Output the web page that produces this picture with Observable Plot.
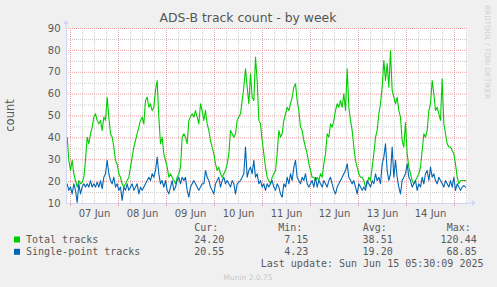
<!DOCTYPE html>
<html><head><meta charset="utf-8">
<script src="https://cdn.jsdelivr.net/npm/d3@7"></script>
<script src="https://cdn.jsdelivr.net/npm/@observablehq/plot@0.6"></script>
<style>
html,body{margin:0;padding:0;background:#f0f0f0;}
#chart svg{display:block;}
</style></head><body><div id="chart"></div>
<script>
// ---- texts ----
const title = "ADS-B track count - by week";
const yLabel = "count";
const seriesNames = ["Total tracks", "Single-point tracks"];
const seriesColors = ["#00cc00", "#0066b3"];
const statHeaders = ["Cur:", "Min:", "Avg:", "Max:"];
const totalStats = ["24.20", "7.15", "38.51", "120.44"];
const singleStats = ["20.55", "4.23", "19.20", "68.85"];
const lastUpdate = "Last update: Sun Jun 15 05:30:09 2025";
const footer = "Munin 2.0.75";
const watermark = "RRDTOOL / TOBI OETIKER";

// ---- axes ----
const yTicks = [10, 20, 30, 40, 50, 60, 70, 80, 90];
const dayLabels = ["07 Jun", "08 Jun", "09 Jun", "10 Jun", "11 Jun", "12 Jun", "13 Jun", "14 Jun"];
const domainStart = new Date(Date.UTC(2025, 5, 6, 22, 0));
const domainEnd = new Date(Date.UTC(2025, 5, 15, 6, 30));
const firstSample = Date.UTC(2025, 5, 6, 22, 20);
const stepMinutes = 50;

// ---- series (one value every 50 min) ----
const total = [
40.3,29.7,25.1,29.7,23.6,20.5,17.5,20.5,19.0,19.8,22.0,29.7,40.3,37.3,41.9,44.9,49.5,51.0,48.0,46.4,
48.0,43.4,49.5,48.0,58.6,49.5,41.9,40.3,35.8,29.7,28.1,23.6,22.0,19.0,17.5,19.0,20.5,22.0,26.6,31.2,
35.8,38.8,41.9,44.9,48.0,49.5,46.4,57.1,58.6,54.0,55.6,52.5,54.0,61.7,66.2,49.5,37.3,40.3,32.7,29.7,
26.6,22.0,23.6,22.0,20.5,19.0,22.0,23.6,26.6,40.3,41.9,40.3,37.3,48.0,49.5,51.0,49.5,52.5,49.5,46.4,
55.6,52.5,48.0,52.5,46.4,43.4,38.8,35.8,32.7,28.1,25.1,26.6,23.6,22.0,23.6,25.1,28.1,32.7,43.4,41.9,
40.3,41.9,48.0,49.5,51.0,57.1,63.2,71.6,63.2,55.6,69.3,58.6,57.1,76.9,66.2,48.0,46.4,38.8,32.7,26.6,
22.0,20.5,19.0,22.0,23.6,25.1,32.7,43.4,40.3,41.9,48.0,51.0,54.0,52.5,55.6,58.6,63.2,64.7,57.1,52.5,
44.9,43.4,38.8,35.8,32.7,28.1,25.1,22.0,22.0,20.5,22.0,20.5,23.6,22.0,28.1,32.7,41.9,40.3,46.4,44.9,
48.0,52.5,55.6,54.0,57.1,54.0,60.1,52.5,71.6,54.0,48.0,43.4,35.8,29.7,26.6,23.6,22.0,22.0,20.5,17.5,
19.0,22.0,20.5,26.6,32.7,40.3,43.4,51.0,55.6,63.2,75.4,66.2,74.0,63.2,79.9,61.7,58.6,55.6,58.6,52.5,
49.5,38.8,35.8,47.0,32.7,26.6,23.6,20.5,19.0,20.5,22.0,23.6,26.6,34.2,41.9,40.3,43.4,52.5,55.6,66.2,
60.1,52.5,54.0,51.0,48.0,67.0,46.4,41.9,37.3,35.8,35.8,34.2,32.7,28.1,22.0,19.0,20.5,20.5,20.5,20.5
];
const single = [
19.0,16.0,17.5,14.4,19.0,16.0,10.5,19.0,14.4,17.5,19.0,17.5,19.0,17.5,20.5,17.5,19.0,17.5,19.8,17.5,
20.5,16.8,22.0,23.6,29.7,23.6,20.5,19.0,22.0,17.5,19.0,16.0,17.5,11.4,17.5,16.0,19.0,16.0,17.5,19.0,
16.0,17.5,19.0,14.4,17.5,16.0,17.5,19.0,20.5,22.0,20.5,23.6,22.0,25.1,31.2,23.6,19.0,20.5,17.5,20.5,
16.0,14.4,17.5,20.5,16.0,17.5,20.5,22.0,19.0,22.0,20.5,22.0,16.0,12.9,17.5,19.0,20.5,19.0,17.5,16.0,
17.5,19.0,19.0,25.1,22.0,20.5,17.5,16.0,14.4,19.0,20.5,22.0,17.5,20.5,22.0,19.0,20.5,19.0,17.5,20.5,
19.0,14.4,19.0,19.8,20.5,22.0,23.6,35.8,22.0,25.1,26.6,23.6,29.7,22.0,23.6,19.0,20.5,17.5,19.0,16.0,
19.0,17.5,19.0,20.5,17.5,16.0,19.0,17.5,14.4,12.9,19.0,17.5,22.0,19.0,23.6,20.5,26.6,29.7,22.0,20.5,
19.0,22.0,20.5,23.6,19.0,17.5,19.0,20.5,17.5,22.0,17.5,20.5,19.0,17.5,20.5,19.0,17.5,20.5,22.0,19.0,
16.0,14.4,17.5,19.0,20.5,22.0,23.6,25.1,28.1,22.0,20.5,19.0,20.5,17.5,14.4,19.0,17.5,16.0,17.5,16.0,
20.5,19.0,17.5,20.5,19.0,23.6,20.5,22.0,19.0,28.1,31.2,37.3,25.1,20.5,23.6,35.8,22.0,29.7,22.0,17.5,
14.4,20.5,22.0,23.6,28.1,22.0,20.5,17.5,19.0,20.5,16.0,19.0,17.5,22.0,19.0,23.6,25.1,20.5,26.6,22.0,
23.6,20.5,19.0,22.0,20.5,19.0,17.5,20.5,19.0,17.5,20.5,17.5,22.0,16.0,19.0,17.5,16.0,17.5,18.2,17.5
];

const rows = [];
total.forEach((v, i) => rows.push({t: new Date(firstSample + i * stepMinutes * 60000), v, s: seriesNames[0]}));
single.forEach((v, i) => rows.push({t: new Date(firstSample + i * stepMinutes * 60000), v, s: seriesNames[1]}));

const midnights = d3.utcDay.range(domainStart, domainEnd);
const sixHours = d3.utcHour.every(6).range(domainStart, domainEnd).filter(d => d.getUTCHours() !== 0);
const noons = midnights.map(d => d3.utcHour.offset(d, 12)).filter(d => d < domainEnd);
const minorY = d3.range(15, 90, 10);

const axisColor = "#cfd6f8";
const majorGrid = "#eaa0a0";
const minorGrid = "#cccccc";
const fontColor = "#5a5a5a";

const plot = Plot.plot({
  width: 497, height: 287,
  marginLeft: 66, marginRight: 30, marginTop: 28, marginBottom: 84,
  style: {background: "#f0f0f0", fontFamily: "DejaVu Sans", overflow: "visible"},
  x: {type: "utc", domain: [domainStart, domainEnd]},
  y: {domain: [10, 90]},
  color: {domain: seriesNames, range: seriesColors},
  marks: [
    Plot.frame({fill: "white", stroke: null}),
    Plot.ruleX(sixHours, {stroke: minorGrid, strokeDasharray: "1,1"}),
    Plot.ruleY(minorY, {stroke: minorGrid, strokeDasharray: "1,1"}),
    Plot.ruleX(midnights, {stroke: majorGrid, strokeDasharray: "1,1"}),
    Plot.ruleY(yTicks.slice(1), {stroke: majorGrid, strokeDasharray: "1,1"}),
    Plot.line(rows, {x: "t", y: "v", z: "s", stroke: "s", strokeWidth: 1.1}),
    Plot.axisX(midnights, {tickSize: 3, tickFormat: () => "", stroke: majorGrid, label: null}),
    Plot.axisX(noons, {tickSize: 0, tickPadding: 6, fontSize: 10, fill: fontColor, label: null,
      tickFormat: d => dayLabels[noons.findIndex(n => +n === +d)]}),
    Plot.axisY(yTicks, {tickSize: 0, tickPadding: 6, fontSize: 10, fill: fontColor, label: null, tickFormat: d => String(d)}),
    Plot.ruleY([10], {stroke: axisColor}),
    Plot.ruleX([domainStart], {stroke: axisColor})
  ]
});

const svg = d3.select(plot);
const xs = plot.scale("x"), ys = plot.scale("y");
const x0 = xs.apply(domainStart), x1 = xs.apply(domainEnd);
const y0 = ys.apply(10), y1 = ys.apply(90);
// axis extensions and arrows
svg.append("line").attr("x1", x1).attr("x2", x1 + 6).attr("y1", y0).attr("y2", y0).attr("stroke", axisColor);
svg.append("path").attr("d", `M${x1+5},${y0-3}L${x1+9},${y0}L${x1+5},${y0+3}Z`).attr("fill", axisColor);
svg.append("line").attr("x1", x0).attr("x2", x0).attr("y1", y1).attr("y2", y1 - 5).attr("stroke", axisColor);
svg.append("path").attr("d", `M${x0-3},${y1-4}L${x0},${y1-8}L${x0+3},${y1-4}Z`).attr("fill", axisColor);

const txt = (x, y, s, o = {}) => svg.append("text").attr("x", x).attr("y", y)
  .attr("fill", o.fill || fontColor).attr("font-size", o.size || 10)
  .attr("font-family", o.family || "DejaVu Sans").attr("text-anchor", o.anchor || "start")
  .attr("transform", o.transform || null).style("white-space", "pre").text(s);

txt(248, 22, title, {size: 12.4, anchor: "middle", fill: "#555"});
txt(0, 0, yLabel, {size: 11.5, anchor: "middle", transform: `translate(14,${(y0 + y1) / 2}) rotate(-90)`});
txt(0, 0, watermark, {size: 7.3, fill: "#d0d0d0", transform: "translate(485,5) rotate(90)"});

const mono = "DejaVu Sans Mono";
const headerX = [194.3, 278.3, 362.7, 446.7];
const valueEnd = [224.4, 308.4, 392.7, 476.7];
statHeaders.forEach((h, i) => txt(headerX[i], 231, h, {family: mono}));
[totalStats, singleStats].forEach((stats, r) => {
  const yy = 243 + r * 12.3;
  svg.append("rect").attr("x", 14).attr("y", yy - 6.5).attr("width", 6).attr("height", 6).attr("fill", seriesColors[r]);
  txt(26, yy, seriesNames[r], {family: mono});
  stats.forEach((v, i) => txt(valueEnd[i], yy, v, {family: mono, anchor: "end"}));
});
txt(483.5, 267, lastUpdate, {family: mono, anchor: "end"});
txt(248, 279.5, footer, {size: 7.5, anchor: "middle", fill: "#c8c8c8"});

document.getElementById("chart").append(plot);
</script></body></html>
